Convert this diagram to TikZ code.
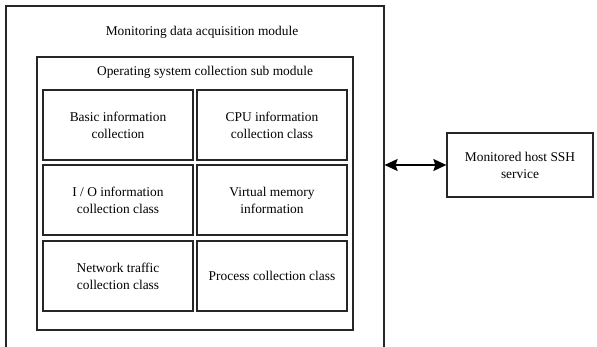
\documentclass[tikz,border=0pt]{standalone}
\usepackage{fontspec}
\setmainfont{Liberation Serif}
\usetikzlibrary{arrows.meta}
\begin{document}
\begin{tikzpicture}[x=1pt,y=-1pt,
  font=\fontsize{13.4}{17}\selectfont,
  frame/.style={draw=black!85, line width=1.2pt, inner sep=0pt},
  cell/.style={draw=black!85, line width=1.6pt, minimum width=150pt, minimum height=70pt,
    align=center, inner sep=0pt},
  title/.style={inner sep=0pt, anchor=center},
  tip/.style={Stealth[length=13pt,width=12pt,inset=2pt]},
  link/.style={line width=1.5pt, {Stealth[length=13pt,width=12pt,inset=2pt]}-{Stealth[length=13pt,width=12pt,inset=2pt]}}]
\clip (0,0) rectangle (597,347);
\fill[white] (0,0) rectangle (597,347);

% acquisition module (runs past the lower edge)
\node[frame, minimum width=378pt, minimum height=346pt] (outer) at (195,179) {};
\node[title] (outertitle) at (202,32) {Monitoring data acquisition module};

% operating system sub module
\node[frame, minimum width=316pt, minimum height=273pt] (inner) at (195,193.5) {};
\node[title] (innertitle) at (205,72) {Operating system collection sub module};

% collection classes
\node[cell] (basic) at (118,125) {Basic information\\collection};
\node[cell] (cpu)   at (272,125) {CPU information\\collection class};
\node[cell] (io)    at (118,200) {I / O information\\collection class};
\node[cell] (vmem)  at (272,200) {Virtual memory\\information};
\node[cell] (net)   at (118,276) {Network traffic\\collection class};
\node[cell] (proc)  at (272,276) {Process collection class};

% monitored host
\node[frame, line width=1.3pt, minimum width=146pt, minimum height=64pt, align=center] (ssh)
  at (520,165) {Monitored host SSH\\service};

\draw[link] (outer.east |- ssh.west) -- (ssh.west);
\end{tikzpicture}
\end{document}
